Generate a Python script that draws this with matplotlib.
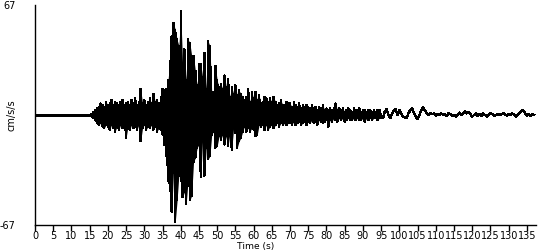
import numpy as np
import matplotlib
matplotlib.use("Agg")
import matplotlib.pyplot as plt

# acceleration record, cm/s/s
# quiet lead-in before the first arrival
pre_time = [0.0, 15.5]
pre_accel = [0.0, 0.0]

# 15.5 s .. 94.5 s, every 0.5 s: upper and lower excursion of the trace
dense_start = 15.5
dense_step = 0.5
dense_upper = [
    0.5, 2, 3, 4, 5, 7, 6, 5, 8, 6,
    7, 9, 6, 8, 7, 6, 8, 9, 6, 7,
    8, 6, 9, 7, 10, 6, 8, 16, 7, 9,
    6, 8, 10, 7, 13, 8, 9, 7, 11, 16,
    15, 16, 21, 33, 48, 56, 52, 46, 42, 63,
    31, 40, 21, 46, 44, 36, 36, 27, 18, 31,
    31, 23, 38, 16, 45, 42, 14, 14, 30, 21,
    17, 19, 16, 24, 17, 22, 11, 17, 13, 18,
    12, 15, 13, 11, 9, 11, 16, 8, 14, 10,
    14, 9, 12, 7, 8, 11, 10, 8, 10, 8,
    11, 8, 6, 7, 9, 6, 6, 8, 7, 7,
    5, 8, 6, 5, 7, 4, 6, 5, 6, 5,
    4, 6, 4, 5, 3, 5, 4, 6, 3, 4,
    3, 4, 3, 4, 7, 3, 4, 3, 4, 2,
    3, 4, 3, 2, 4, 3, 3, 4, 2, 3,
    3, 2, 3, 3, 2, 3, 2, 3, 3,
]
dense_lower = [
    -0.5, -2, -3, -5, -6, -5, -7, -8, -6, -7,
    -9, -6, -8, -10, -7, -9, -6, -8, -7, -14,
    -7, -9, -6, -8, -7, -9, -6, -16, -8, -6,
    -9, -7, -8, -6, -9, -7, -10, -8, -9, -12,
    -18, -25, -40, -46, -59, -35, -65, -52, -36, -40,
    -50, -47, -54, -40, -52, -49, -29, -26, -20, -18,
    -38, -15, -37, -20, -27, -25, -12, -10, -20, -19,
    -13, -15, -12, -18, -13, -19, -11, -21, -8, -11,
    -20, -16, -14, -10, -7, -10, -8, -10, -8, -9,
    -13, -12, -6, -7, -6, -9, -6, -9, -7, -6,
    -8, -6, -5, -7, -5, -6, -5, -6, -5, -5,
    -6, -4, -6, -5, -4, -6, -5, -4, -6, -4,
    -5, -3, -5, -4, -6, -3, -4, -5, -4, -3,
    -7, -3, -4, -2, -3, -4, -2, -3, -2, -4,
    -3, -2, -3, -3, -2, -3, -2, -3, -3, -2,
    -4, -2, -3, -2, -3, -2, -2, -3, -2,
]

# 95 s .. 137 s, every 0.5 s: slow coda
tail_start = 95.0
tail_step = 0.5
tail_accel = [
    -1, -2, 2, 3.5, 0, -2, 1, 2.5, 3.5, 0,
    3, 1, -1, -1.5, -2, 1, 3, 4, 1, -1,
    -2.5, 0, 3, 4.5, 3, 1, 0, 1, 0.5, 1,
    -0.5, 0.5, 0, 1, 0, 0.5, -0.5, 1, 0.5, -0.5,
    0, -1, 0, 1.5, 0, 1, 2.5, 1, 2, 0.5,
    -1, 0, 1, -0.5, 0.5, -0.5, 1, 0, -1, 0,
    1, 0.5, -0.5, 0, 0.5, 0, 0.5, 1, 0.5, -0.5,
    0.5, 0, 1, 0, -1, 0, 1, 2.5, 3, 1,
    -0.5, 0.5, -0.5, 0.5, 0,
]

x_ticks = list(range(0, 140, 5))
y_limit = 67
t_max = 137.5

plt.rcParams["font.family"] = ["DejaVu Sans"]

fig = plt.figure(figsize=(5.5, 2.5), dpi=100)
ax = fig.add_axes([35 / 550, 25 / 250, 501 / 550, 220 / 250])

# each sample is a vertical stroke from lower to upper; the band between
# the excursions is solid black like the original pixel trace
t_dense = dense_start + dense_step * np.arange(len(dense_upper))
xs = np.repeat(t_dense, 2)
ys = np.column_stack([dense_lower, dense_upper]).ravel()
t_tail = tail_start + tail_step * np.arange(len(tail_accel))

ax.plot(pre_time, pre_accel, color="black", lw=1.8, antialiased=False)
ax.fill_between(t_dense, dense_lower, dense_upper, color="black", lw=0, antialiased=False)
ax.plot(np.concatenate([[pre_time[-1]], xs, t_tail]),
        np.concatenate([[pre_accel[-1]], ys, tail_accel]),
        color="black", lw=1.0, antialiased=False)

ax.set_xlim(0, t_max)
ax.set_ylim(-y_limit, y_limit)
for side in ("top", "right"):
    ax.spines[side].set_visible(False)
for side in ("left", "bottom"):
    ax.spines[side].set_linewidth(1.0)
    ax.spines[side].set_color("black")

ax.set_xticks(x_ticks)
ax.set_xticklabels([str(v) for v in x_ticks])
ax.tick_params(axis="x", direction="out", length=4, width=1, pad=0.5, labelsize=7.0)
ax.set_yticks([-y_limit, y_limit])
ax.set_yticklabels([str(-y_limit), str(y_limit)])
ax.tick_params(axis="y", length=0, pad=14, labelsize=7.0)

fig.text(12 / 550, 1 - 115 / 250, "cm/s/s", rotation=90, ha="center", va="center", fontsize=7)
fig.text(256 / 550, 1 - 246.5 / 250, "Time (s)", ha="center", va="center", fontsize=6.6)

fig.savefig("out.png", dpi=100)
